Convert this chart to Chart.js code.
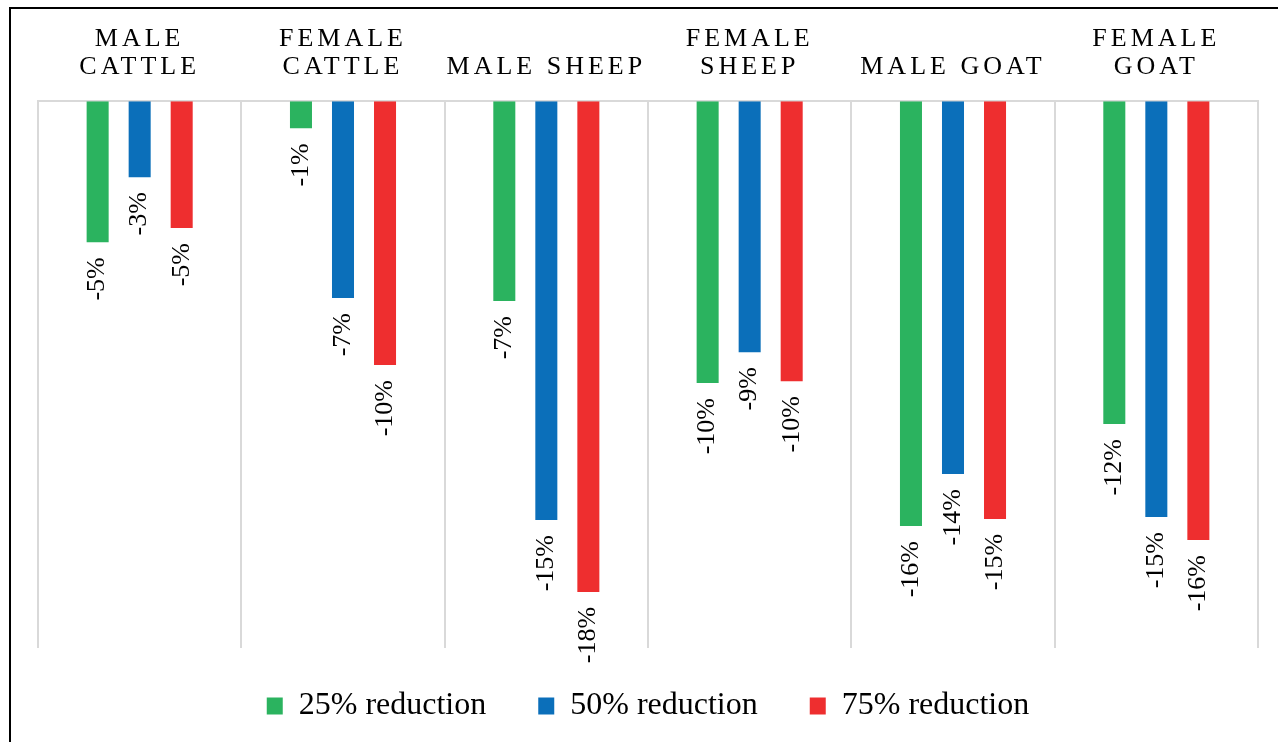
<!DOCTYPE html>
<html>
<head>
<meta charset="utf-8">
<script src="https://cdn.jsdelivr.net/npm/chart.js@4.4.1/dist/chart.umd.min.js"></script>
<style>
  html, body { margin: 0; padding: 0; background: #fff; overflow: hidden; }
  #wrap { position: relative; width: 1278px; height: 742px; }
  #frame { position: absolute; left: 9px; top: 7px; width: 1400px; height: 900px; border: 2px solid #000; box-sizing: border-box; pointer-events: none; }
</style>
</head>
<body>
<div id="wrap">
  <canvas id="chart"></canvas>
  <div id="frame"></div>
</div>
<script>
const categories = [['MALE', 'CATTLE'], ['FEMALE', 'CATTLE'], 'MALE SHEEP', ['FEMALE', 'SHEEP'], 'MALE GOAT', ['FEMALE', 'GOAT']];
const seriesNames = ['25% reduction', '50% reduction', '75% reduction'];
const reduction25 = [-5.16, -0.99, -7.31, -10.31, -15.54, -11.81];
const reduction50 = [-2.78, -7.20, -15.32, -9.18, -13.64, -15.21];
const reduction75 = [-4.64, -9.65, -17.95, -10.24, -15.28, -16.05];
const seriesColors = ['#2bb35f', '#0b6fba', '#ee2e2f'];

const serif = '"Liberation Serif", "Times New Roman", serif';

// rotated value labels under each bar end
const barLabels = {
  id: 'barLabels',
  afterLayout(chart) {
    // pull the legend a bit closer to the plot
    chart.legend.top -= 10;
    chart.legend.bottom -= 10;
  },
  afterDatasetsDraw(chart) {
    const ctx = chart.ctx;
    ctx.save();
    ctx.font = '26px ' + serif;
    ctx.fillStyle = '#000';
    ctx.textAlign = 'right';
    ctx.textBaseline = 'middle';
    chart.data.datasets.forEach((ds, i) => {
      chart.getDatasetMeta(i).data.forEach((bar, j) => {
        ctx.save();
        ctx.translate(bar.x, bar.y + 15);
        ctx.rotate(-Math.PI / 2);
        ctx.fillText(Math.round(ds.data[j]) + '%', 0, 0);
        ctx.restore();
      });
    });
    ctx.restore();
    // category names get drawn right after this (ticks z = 1), spaced out
    ctx.letterSpacing = '4px';
  },
  afterDraw(chart) {
    chart.ctx.letterSpacing = '0px';
  }
};

const data = [reduction25, reduction50, reduction75];

new Chart(document.getElementById('chart'), {
  type: 'bar',
  data: {
    labels: categories,
    datasets: seriesNames.map((name, i) => ({
      label: name,
      data: data[i],
      backgroundColor: seriesColors[i],
      borderWidth: 0,
      categoryPercentage: 0.62,
      barPercentage: 0.524
    }))
  },
  options: {
    responsive: true,
    maintainAspectRatio: false,
    animation: false,
    layout: { padding: { left: 38, right: 20, top: 5, bottom: 0 } },
    plugins: {
      legend: {
        position: 'bottom',
        labels: {
          boxWidth: 16,
          boxHeight: 17,
          padding: 52,
          color: '#000',
          font: { family: serif, size: 32 }
        }
      },
      tooltip: { enabled: false }
    },
    scales: {
      x: {
        position: 'top',
        grid: { offset: true, color: '#d9d9d9', lineWidth: 2, drawTicks: false },
        border: { color: '#d9d9d9', width: 2 },
        ticks: {
          z: 1,
          padding: 20,
          autoSkip: false,
          maxRotation: 0,
          color: '#000',
          font: { family: serif, size: 26, lineHeight: 1.08 }
        }
      },
      y: { display: false, min: -20, max: 0 }
    }
  },
  plugins: [barLabels]
});
</script>
</body>
</html>
